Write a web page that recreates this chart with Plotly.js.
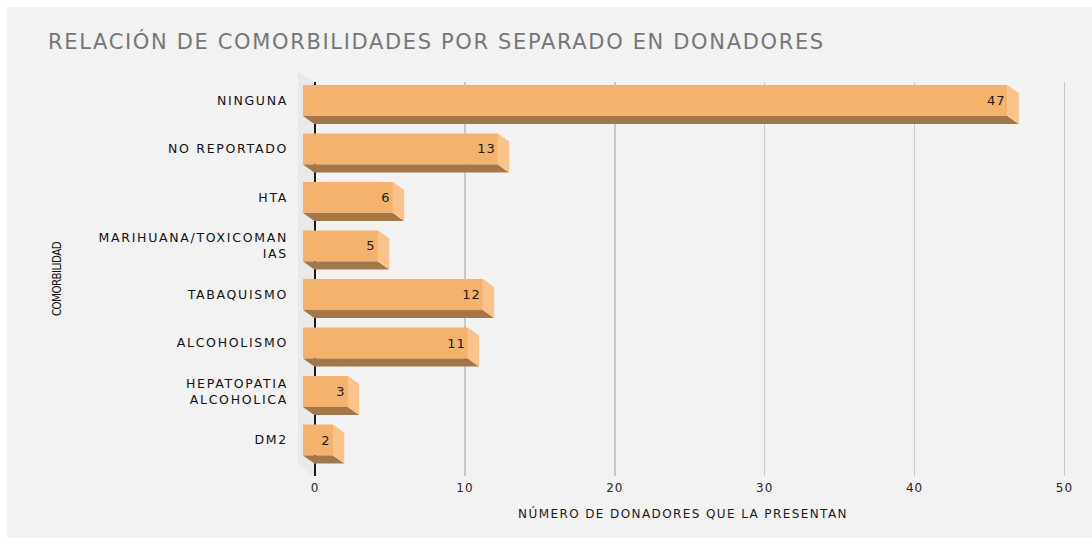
<!DOCTYPE html>
<html>
<head>
<meta charset="utf-8">
<script src="https://cdn.plot.ly/plotly-3.0.1.min.js"></script>
<style>
  html, body { margin: 0; padding: 0; background: #ffffff; }
  #chart { position: absolute; left: 7px; top: 7px; width: 1085px; height: 531px; }
  #chart .gtitle { letter-spacing: 1.65px; }
  #chart .ytick text { letter-spacing: 1.7px; }
  #chart .xtick text { letter-spacing: 1px; }
  #chart .xtitle { letter-spacing: 1.4px; }
  #chart .ytitle { letter-spacing: -0.6px; }
  #chart .bartext text, #chart text.bartext { letter-spacing: 1px; }
</style>
</head>
<body>
<div id="chart"></div>
<script>
// ---- data ----
const categories = ['NINGUNA', 'NO REPORTADO', 'HTA', 'MARIHUANA/TOXICOMAN<br>IAS',
                    'TABAQUISMO', 'ALCOHOLISMO', 'HEPATOPATIA<br>ALCOHOLICA', 'DM2'];
const values = [47, 13, 6, 5, 12, 11, 3, 2];
const xTickVals = [0, 10, 20, 30, 40, 50];
const chartTitle = 'RELACIÓN DE COMORBILIDADES POR SEPARADO EN DONADORES';
const xTitle = 'NÚMERO DE DONADORES QUE LA PRESENTAN';
const yTitle = 'COMORBILIDAD';

// ---- 3D look parameters (styling) ----
const frontBase = -0.8;   // front face shifted left
const depthX = 0.75;      // depth in x units
const depthY = 0.165;     // depth in category units (downwards)
const barW = 0.64;

const positions = categories.map((c, i) => i);

// bottom (dark) and right side (light) faces, derived from the values
const botX = [], botY = [], sideX = [], sideY = [];
values.forEach((v, i) => {
  const x0 = frontBase, x1 = frontBase + v;
  const yt = i - barW / 2, yb = i + barW / 2;
  botX.push(x0, x1, x1 + depthX, x0 + depthX, x0, null);
  botY.push(yb, yb, yb + depthY, yb + depthY, yb, null);
  sideX.push(x1, x1 + depthX, x1 + depthX, x1, x1, null);
  sideY.push(yt, yt + depthY, yb + depthY, yb, yt, null);
});

const FONT = 'DejaVu Sans, Open Sans, sans-serif';

const traces = [
  {
    type: 'scatter', mode: 'lines', x: botX, y: botY, fill: 'toself',
    fillcolor: '#a2774b', line: { width: 0, color: '#a2774b' },
    hoverinfo: 'skip', showlegend: false
  },
  {
    type: 'scatter', mode: 'lines', x: sideX, y: sideY, fill: 'toself',
    fillcolor: '#f9c38b', line: { width: 0, color: '#f9c38b' },
    hoverinfo: 'skip', showlegend: false
  },
  {
    type: 'bar', orientation: 'h', y: positions, x: values, base: frontBase,
    width: barW, marker: { color: '#f5b26c', line: { width: 0 } },
    text: values.map(String), textposition: 'inside', insidetextanchor: 'end',
    constraintext: 'none',
    textfont: { family: FONT, size: 13, color: '#1a1a1a' },
    hoverinfo: 'skip', showlegend: false
  }
];

const layout = {
  width: 1085, height: 531,
  paper_bgcolor: '#f2f2f2', plot_bgcolor: 'rgba(0,0,0,0)',
  margin: { l: 290, r: 22.5, t: 75, b: 62 },
  showlegend: false,
  title: {
    text: chartTitle, xref: 'container', yref: 'container',
    x: 0.0378, xanchor: 'left', y: 0.934, yanchor: 'middle',
    font: { family: FONT, size: 21, color: '#767676' }
  },
  xaxis: {
    range: [-1.2, 50.3], tickvals: xTickVals, ticktext: xTickVals.map(String),
    showgrid: true, gridcolor: '#c9c9c9', gridwidth: 1.5,
    zeroline: true, zerolinecolor: '#1a1a1a', zerolinewidth: 1.5,
    showline: false, ticks: '', ticklabelstandoff: 3,
    tickfont: { family: FONT, size: 12, color: '#262626' },
    title: { text: xTitle, standoff: 15, font: { family: FONT, size: 12, color: '#1a1a1a' } }
  },
  yaxis: {
    range: [7.742, -0.381], tickvals: positions, ticktext: categories,
    showgrid: false, zeroline: false, showline: false, ticks: '',
    ticklabelstandoff: 8,
    tickfont: { family: FONT, size: 12.5, color: '#111111' },
    title: { text: yTitle, standoff: 66, font: { family: 'DejaVu Sans Condensed, Liberation Sans Narrow, sans-serif', size: 11.5, color: '#111111' } }
  },
  shapes: [{
    type: 'path', xref: 'paper', yref: 'paper', layer: 'below',
    path: 'M 0.0013,1.0254 L 0.022,1 L 0.022,0 L 0.0013,0.0305 Z',
    fillcolor: '#e9e9e9', line: { width: 0 }
  }]
};

Plotly.newPlot('chart', traces, layout, { displayModeBar: false, staticPlot: true });
</script>
</body>
</html>
